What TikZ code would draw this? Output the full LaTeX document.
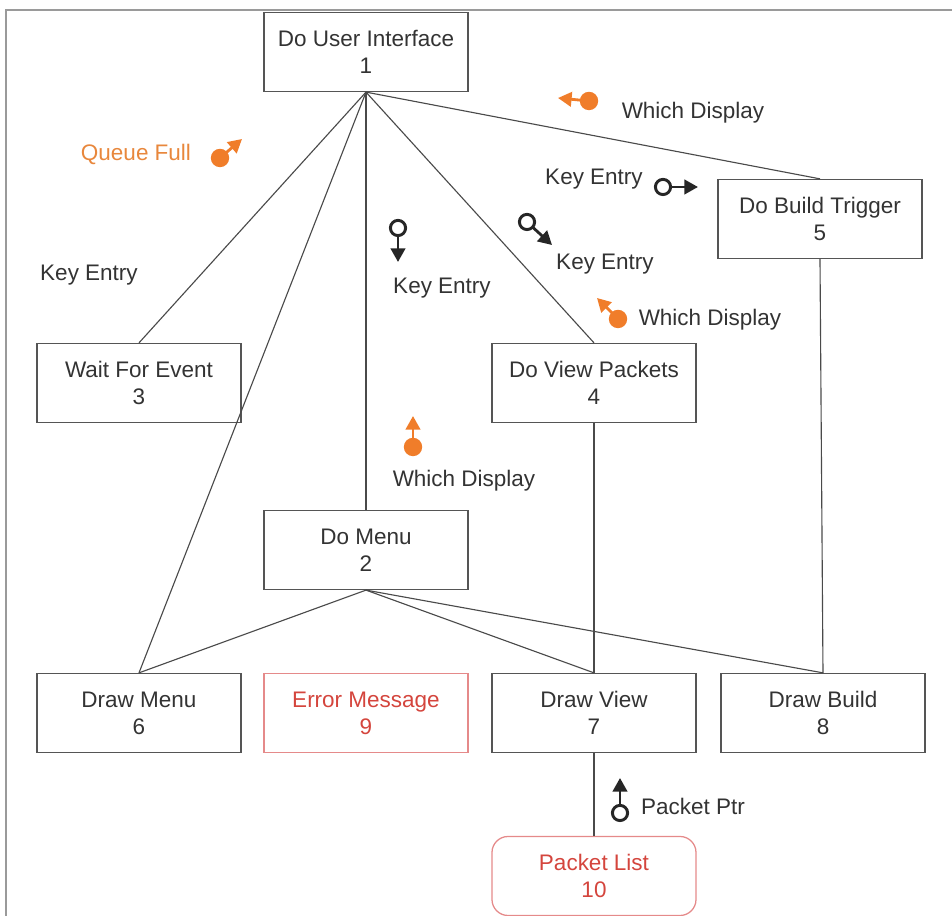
\documentclass[tikz,border=0pt]{standalone}
\usepackage{fontspec}
\setmainfont{Liberation Sans}
\usetikzlibrary{arrows.meta, calc}
\definecolor{boxgray}{HTML}{555555}
\definecolor{linegray}{HTML}{4A4A4A}
\definecolor{textgray}{HTML}{333333}
\definecolor{framegray}{HTML}{9A9A9A}
\definecolor{errred}{HTML}{D4453D}
\definecolor{errpink}{HTML}{E58A8A}
\definecolor{ctrlorange}{HTML}{F07D2A}
\definecolor{qorange}{HTML}{E8873C}
\tikzset{
  module/.style={draw=boxgray, line width=0.9pt, minimum width=5.1cm, minimum height=1.975cm,
      inner sep=0pt, align=center, text=textgray, font=\fontsize{16}{19.2}\selectfont},
  errmodule/.style={module, draw=errpink, text=errred},
  store/.style={errmodule, rounded corners=0.4cm},
  link/.style={draw=linegray, line width=0.8pt},
  flowlabel/.style={text=textgray, inner sep=0pt, font=\fontsize{16}{19.2}\selectfont},
  dataflag/.style={draw=black!85, line width=2.1pt},
  ctrlflag/.style={fill=ctrlorange, draw=none},
  dataarrow/.style={draw=black!85, fill=black!85, line width=2pt, -{Triangle[length=0.34cm, width=0.36cm]}},
  ctrlarrow/.style={draw=ctrlorange, fill=ctrlorange, line width=2pt, -{Triangle[length=0.34cm, width=0.36cm]}},
}

\begin{document}
\begin{tikzpicture}
  \useasboundingbox (0,0) rectangle (23.8,22.9);
  % frame
  \draw[framegray, line width=1.8pt] (0.15,0) -- (0.15,22.65) -- (23.8,22.65);
  % modules
  \node[module] (ui) at (9.15,21.6) {Do User Interface\\1};
  \node[module] (menu) at (9.15,9.15) {Do Menu\\2};
  \node[module] (wait) at (3.475,13.325) {Wait For Event\\3};
  \node[module] (view) at (14.85,13.325) {Do View Packets\\4};
  \node[module] (trig) at (20.5,17.425) {Do Build Trigger\\5};
  \node[module] (dmenu) at (3.475,5.075) {Draw Menu\\6};
  \node[module] (dview) at (14.85,5.075) {Draw View\\7};
  \node[module] (dbuild) at (20.575,5.075) {Draw Build\\8};
  \node[errmodule] (err) at (9.15,5.075) {Error Message\\9};
  \node[store] (plist) at (14.85,1.0) {Packet List\\10};
  % calls
  \draw[link] (ui.south) -- (wait.north);
  \draw[link] (ui.south) -- (dmenu.north);
  \draw[link] (ui.south) -- (menu.north);
  \draw[link] (ui.south) -- (view.north);
  \draw[link] (ui.south) -- (trig.north);
  \draw[link] (menu.south) -- (dmenu.north);
  \draw[link] (menu.south) -- (dview.north);
  \draw[link] (menu.south) -- (dbuild.north);
  \draw[link] (view.south) -- (dview.north);
  \draw[link] (trig.south) -- (dbuild.north);
  \draw[link] (dview.south) -- (plist.north);
  % couples
  \fill[ctrlflag] (5.5,18.95) circle (0.23);
  \draw[ctrlarrow] ($(5.5,18.95)!0.2cm!(6.05,19.425)$) -- (6.05,19.425);
  \fill[ctrlflag] (14.725,20.375) circle (0.23);
  \draw[ctrlarrow] ($(14.725,20.375)!0.2cm!(13.95,20.45)$) -- (13.95,20.45);
  \fill[ctrlflag] (15.45,14.925) circle (0.23);
  \draw[ctrlarrow] ($(15.45,14.925)!0.2cm!(14.925,15.45)$) -- (14.925,15.45);
  \fill[ctrlflag] (10.325,11.725) circle (0.23);
  \draw[ctrlarrow] ($(10.325,11.725)!0.2cm!(10.325,12.5)$) -- (10.325,12.5);
  \draw[dataflag] (9.95,17.2) circle (0.19);
  \draw[dataarrow] ($(9.95,17.2)!0.19cm!(9.95,16.35)$) -- (9.95,16.35);
  \draw[dataflag] (13.175,17.35) circle (0.19);
  \draw[dataarrow] ($(13.175,17.35)!0.19cm!(13.8,16.775)$) -- (13.8,16.775);
  \draw[dataflag] (16.575,18.225) circle (0.19);
  \draw[dataarrow] ($(16.575,18.225)!0.19cm!(17.45,18.225)$) -- (17.45,18.225);
  \draw[dataflag] (15.5,2.575) circle (0.19);
  \draw[dataarrow] ($(15.5,2.575)!0.19cm!(15.5,3.45)$) -- (15.5,3.45);
  % couple labels
  \node[flowlabel, text=qorange] (qfull) at (3.4,19.05) {Queue Full};
  \node[flowlabel] (keya) at (2.225,16.025) {Key Entry};
  \node[flowlabel] (keyb) at (11.05,15.7) {Key Entry};
  \node[flowlabel] (keyc) at (15.125,16.3) {Key Entry};
  \node[flowlabel] (keyd) at (14.85,18.425) {Key Entry};
  \node[flowlabel] (whicha) at (17.325,20.075) {Which Display};
  \node[flowlabel] (whichb) at (17.75,14.9) {Which Display};
  \node[flowlabel] (whichc) at (11.6,10.875) {Which Display};
  \node[flowlabel] (pptr) at (17.325,2.75) {Packet Ptr};
\end{tikzpicture}
\end{document}
